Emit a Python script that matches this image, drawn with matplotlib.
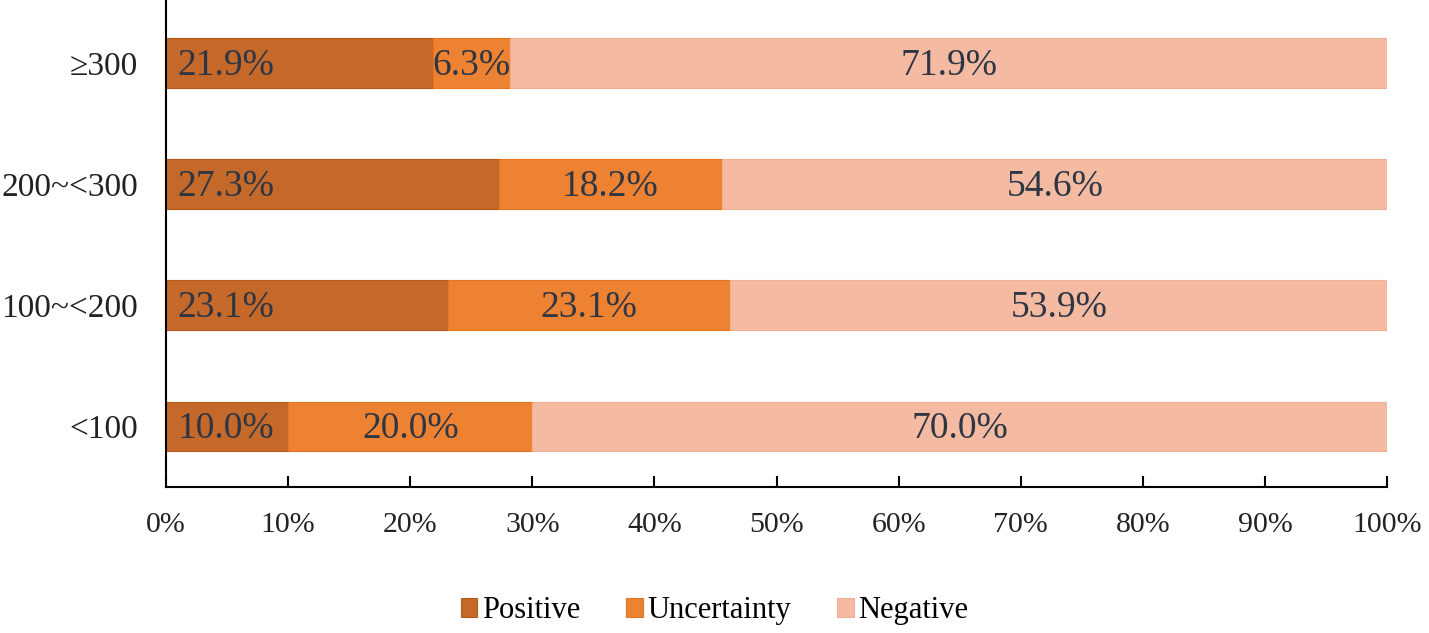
import matplotlib.pyplot as plt
import numpy as np

plt.rcParams['font.family'] = ['Liberation Serif', 'DejaVu Serif']

# data
groups = ['<100', '100~<200', '200~<300', '≥300']
positive = [10.0, 23.1, 27.3, 21.9]
uncertainty = [20.0, 23.1, 18.2, 6.3]
negative = [70.0, 53.9, 54.6, 71.9]

colors = ['#C5692A', '#ED8232', '#F4BAA2']
edges = ['#B85A1A', '#E8741F', '#F0AE92']
text_color = '#2E3644'

fig = plt.figure(figsize=(14.29, 6.33), dpi=100)
ax = fig.add_axes([0.1162, 0.2306, 0.8544, 0.7694])

y = np.arange(len(groups))
h = 0.41
left = np.zeros(len(groups))
series = [('Positive', positive), ('Uncertainty', uncertainty), ('Negative', negative)]
for i, (name, vals) in enumerate(series):
    vals = np.array(vals)
    ax.barh(y, vals, left=left, height=h, color=colors[i], edgecolor=edges[i],
            linewidth=0.8, label=name)
    for j, v in enumerate(vals):
        # positive labels sit near the start of the bar, others centered
        xpos = 4.9 if i == 0 else left[j] + v / 2
        ax.text(xpos, y[j] - 0.02, f'{v:.1f}%', ha='center', va='center',
                fontsize=27, color=text_color)
    left += vals

ax.set_xlim(0, 100)
ax.set_ylim(-0.5, 3.52)
ax.set_xticks(np.arange(0, 101, 10))
ax.set_xticklabels([f'{t}%' for t in range(0, 101, 10)])
ax.set_yticks(y)
ax.set_yticklabels(groups)
ax.tick_params(axis='x', direction='in', length=8, width=1.5, labelsize=21.5,
               labelcolor='#222222', pad=18)
ax.tick_params(axis='y', length=0, labelsize=24, labelcolor='#222222', pad=20)
for s in ['top', 'right']:
    ax.spines[s].set_visible(False)
for s in ['left', 'bottom']:
    ax.spines[s].set_linewidth(1.5)

fig.legend(loc='center', bbox_to_anchor=(0.5, 0.035), ncol=3, frameon=False,
           fontsize=22, handlelength=0.55, handleheight=0.55, handletextpad=0.15,
           columnspacing=1.5)

fig.savefig('out.png', dpi=100)
